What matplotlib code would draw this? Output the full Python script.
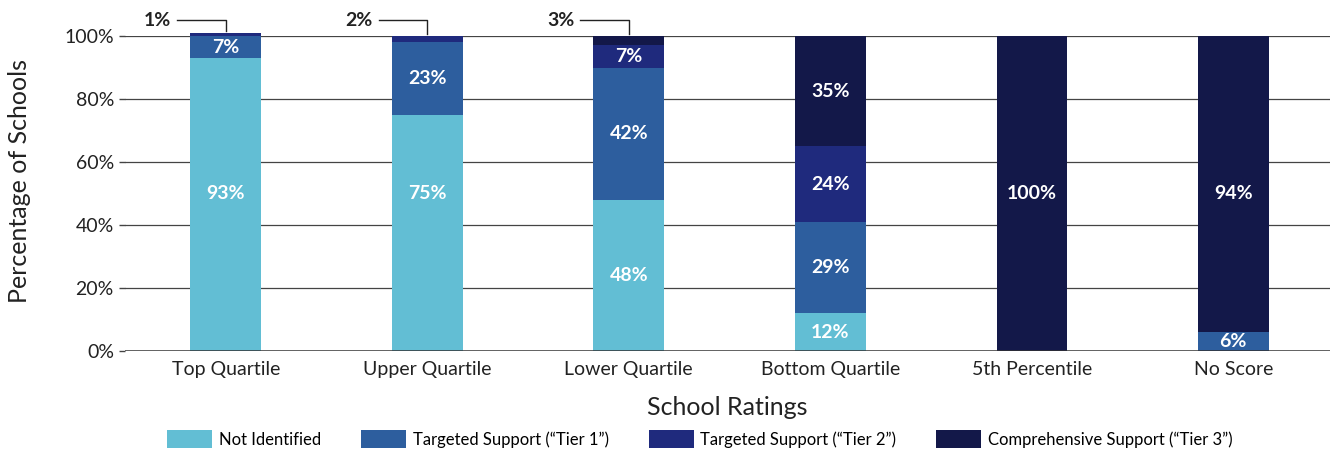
import numpy as np
import matplotlib.pyplot as plt
from matplotlib.patches import Patch

plt.rcParams['font.family'] = ['Lato', 'DejaVu Sans']

categories = ['Top Quartile', 'Upper Quartile', 'Lower Quartile',
              'Bottom Quartile', '5th Percentile', 'No Score']
series_names = ['Not Identified', 'Targeted Support (\u201cTier 1\u201d)',
                'Targeted Support (\u201cTier 2\u201d)',
                'Comprehensive Support (\u201cTier 3\u201d)']
not_identified = [93, 75, 48, 12, 0, 0]
tier1 = [7, 23, 42, 29, 0, 6]
tier2 = [1, 2, 7, 24, 0, 0]
tier3 = [0, 0, 3, 35, 100, 94]
colors = ['#62bed4', '#2d5e9e', '#1f2a7d', '#131849']

series = [not_identified, tier1, tier2, tier3]
x = np.arange(len(categories))
width = 0.35

fig = plt.figure(figsize=(13.3, 4.49), dpi=100)
ax = fig.add_axes([125 / 1330, 98 / 449, 1205 / 1330, 315 / 449])

for val in [20, 40, 60, 80, 100]:
    ax.axhline(val, color='#444444', lw=0.9, zorder=0)
ax.axhline(0, color='#333333', lw=1.8, zorder=3)

bottom = np.zeros(len(categories))
for vals, col in zip(series, colors):
    vals = np.array(vals, dtype=float)
    ax.bar(x, vals, width, bottom=bottom, color=col, clip_on=False, zorder=2)
    for i, v in enumerate(vals):
        if v >= 5:
            # big segments get their label at mid-height of the chart
            ypos = 50 if v >= 60 else bottom[i] + v / 2
            ax.text(x[i], ypos, f'{int(v)}%', ha='center', va='center',
                    color='white', fontsize=14, fontweight='bold', zorder=4)
        elif v > 0:
            ax.plot([x[i] - 0.24, x[i], x[i]], [105, 105, 101.5 if i == 0 else 100.5],
                    color='#222222', lw=1, clip_on=False)
            ax.text(x[i] - 0.27, 105, f'{int(v)}%', ha='right', va='center',
                    color='#222222', fontsize=14, fontweight='bold')
    bottom += vals

ax.set_xlim(-0.5, 5.48)
ax.set_ylim(0, 100)
ax.set_yticks([0, 20, 40, 60, 80, 100])
ax.set_yticklabels([f'{v}%' for v in [0, 20, 40, 60, 80, 100]], fontsize=14, color='#222222')
ax.set_xticks(x)
ax.set_xticklabels(categories, fontsize=14, color='#222222')
ax.tick_params(axis='x', length=0, pad=7)
ax.tick_params(axis='y', length=4, width=1, color='#444444', pad=4)
for s in ax.spines.values():
    s.set_visible(False)

ax.set_ylabel('Percentage of Schools', fontsize=18, color='#222222', labelpad=24)
ax.yaxis.label.set_y(0.54)
ax.set_xlabel('School Ratings', fontsize=18, color='#222222', labelpad=13)

handles = [Patch(facecolor=c) for c in colors]
fig.legend(handles, series_names, loc='center', bbox_to_anchor=(700 / 1330, 1 - 439 / 449),
           ncol=4, frameon=False, fontsize=12, handlelength=2.7, handleheight=1.2,
           columnspacing=2.4, handletextpad=0.4)

fig.savefig('out.png', dpi=100)
